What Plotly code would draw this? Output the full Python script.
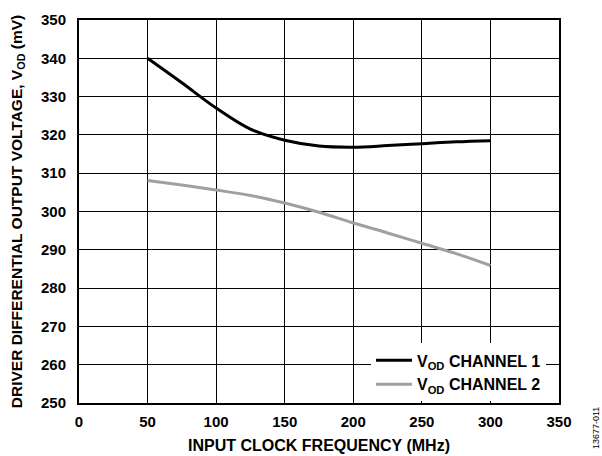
import plotly.graph_objects as go

freq = [50, 75, 100, 125, 150, 175, 200, 225, 250, 275, 300]
ch1 = [340.0, 333.6, 327.0, 321.5, 318.6, 317.1, 316.8, 317.2, 317.7, 318.2, 318.5]
ch2 = [308.1, 306.9, 305.6, 304.2, 302.2, 299.8, 297.0, 294.4, 291.7, 289.0, 285.9]

x_ticks = [0, 50, 100, 150, 200, 250, 300, 350]
y_ticks = [250, 260, 270, 280, 290, 300, 310, 320, 330, 340, 350]

FONT = "Liberation Sans"
L, R, T, B = 79, 43, 20, 53
W, H = 602, 456

fig = go.Figure()
fig.add_trace(go.Scatter(x=freq, y=ch1, mode="lines", line=dict(color="black", width=3, shape="spline"),
                         name="V<sub>OD</sub> CHANNEL 1"))
fig.add_trace(go.Scatter(x=freq, y=ch2, mode="lines", line=dict(color="#a0a0a0", width=3, shape="spline"),
                         name="V<sub>OD</sub> CHANNEL 2"))

axis_common = dict(showgrid=True, gridcolor="black", gridwidth=1.3, showline=True, linecolor="black",
                   linewidth=2, mirror=True, zeroline=False, ticks="", automargin=False,
                   tickfont=dict(family=FONT, size=15, color="black", weight="bold"))

pw = W - L - R
ph = H - T - B

fig.update_layout(
    width=W, height=H,
    margin=dict(l=L, r=R, t=T, b=B),
    plot_bgcolor="white", paper_bgcolor="white",
    font=dict(family=FONT, color="black"),
    xaxis=dict(range=[0, 350], tickvals=x_ticks,
               title=dict(text="INPUT CLOCK FREQUENCY (MHz)",
                          font=dict(family=FONT, size=16, weight="bold"), standoff=11),
               ticklabelstandoff=4,
               **axis_common),
    yaxis=dict(range=[250, 350], tickvals=y_ticks,
               title=dict(text="DRIVER DIFFERENTIAL OUTPUT VOLTAGE, V<sub>OD</sub> (mV)",
                          font=dict(family=FONT, size=15.5, weight="bold"), standoff=15),
               ticklabelstandoff=8,
               **axis_common),
    legend=dict(x=(371 - L) / pw, y=0.004, xanchor="left", yanchor="bottom", bgcolor="white",
                font=dict(family=FONT, size=16, color="black", weight="bold"), itemwidth=36,
                tracegroupgap=0, borderwidth=0),
    showlegend=True,
)

fig.add_annotation(text="13677-011", x=(596 - L) / pw, y=(H - B - 428) / ph, xref="paper", yref="paper",
                   showarrow=False, textangle=-90, xanchor="center", yanchor="middle",
                   font=dict(family=FONT, size=9, color="black"))

fig.write_html("out.html", config={"displayModeBar": False},
               post_script="document.body.style.margin='0';")
